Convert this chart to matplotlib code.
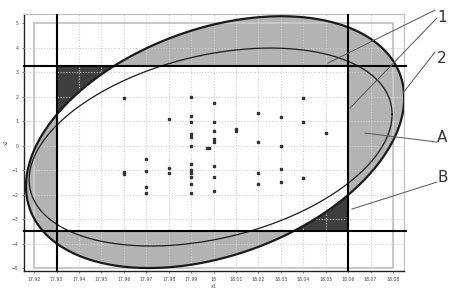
import numpy as np
import matplotlib
matplotlib.use('Agg')
from matplotlib import pyplot as plt
from matplotlib.patches import Rectangle

# measured points (x1, x2)
x1 = [17.96, 17.96, 17.96,
      17.97, 17.97, 17.97, 17.97,
      17.98, 17.98, 17.98,
      17.99, 17.99, 17.99, 17.99, 17.99, 17.99, 17.99, 17.99, 17.99, 17.99, 17.99, 17.99,
      18.00, 18.00, 18.00, 18.00, 18.00, 18.00, 18.00, 18.00,
      17.997, 17.998,
      18.01, 18.01,
      18.02, 18.02, 18.02, 18.02,
      18.03, 18.03, 18.03, 18.03,
      18.04, 18.04, 18.04,
      18.05]
x2 = [1.94, -1.06, -1.18,
      -0.55, -1.04, -1.69, -1.94,
      1.08, -0.92, -1.12,
      1.98, 1.2, 0.96, 0.47, 0.35, -0.02, -0.76, -1.0, -1.12, -1.29, -1.57, -1.94,
      1.73, 0.96, 0.59, 0.27, 0.14, -0.84, -1.29, -1.86,
      -0.1, -0.1,
      0.67, 0.59,
      1.33, 0.14, -1.12, -1.57,
      1.16, -0.02, -0.96, -1.49,
      1.94, 0.96, -1.33,
      0.51]

# tolerance limits (lines "1")
x1_limits = [17.93, 18.06]
x2_limits = [-3.5, 3.25]

# ellipses: centre, half width, half height, cos of phase
outer_ell = dict(cx=18.0007, cy=0.14, ax=0.0843, ay=5.14, c=0.35)
inner_ell = dict(cx=17.9987, cy=-0.06, ax=0.0809, ay=4.04, c=0.33)

xticks = [17.92, 17.93, 17.94, 17.95, 17.96, 17.97, 17.98, 17.99, 18.00,
          18.01, 18.02, 18.03, 18.04, 18.05, 18.06, 18.07, 18.08]
xticklabels = ['17.92', '17.93', '17.94', '17.95', '17.96', '17.97', '17.98', '17.99', '18',
               '18.01', '18.02', '18.03', '18.04', '18.05', '18.06', '18.07', '18.08']
yticks = [-5, -4, -3, -2, -1, 0, 1, 2, 3, 4, 5]


def ellipse_xy(e, n=400):
    t = np.linspace(0, 2 * np.pi, n)
    d = np.arccos(e['c'])
    return e['cx'] + e['ax'] * np.cos(t), e['cy'] + e['ay'] * np.cos(t - d)


fig = plt.figure(figsize=(4.73, 3.0), dpi=100)
ax = fig.add_axes([0.0507, 0.0967, 0.8034, 0.8566])
ax.set_xlim(17.9155, 18.0849)
ax.set_ylim(-5.12, 5.37)

ox, oy = ellipse_xy(outer_ell)
ix, iy = ellipse_xy(inner_ell)

# gray = inside ellipse, outside box ; dark = inside box, outside ellipse
ax.fill(ox, oy, color='#b3b3b3', lw=0, zorder=1)
box = Rectangle((x1_limits[0], x2_limits[0]), x1_limits[1] - x1_limits[0],
                x2_limits[1] - x2_limits[0], transform=ax.transData)
ax.add_patch(Rectangle((x1_limits[0], x2_limits[0]), x1_limits[1] - x1_limits[0],
                       x2_limits[1] - x2_limits[0], color='#3e3e3e', lw=0, zorder=2))
white = ax.fill(ox, oy, color='white', lw=0, zorder=3)[0]
white.set_clip_path(box)

# grid
for xt in xticks[1:-1]:
    ax.axvline(xt, color='#cfcfcf', lw=0.8, ls=(0, (1, 1.5)), zorder=4)
for yt in yticks[1:-1]:
    ax.axhline(yt, color='#cfcfcf', lw=0.8, ls=(0, (1, 1.5)), zorder=4)
ax.add_patch(Rectangle((xticks[0], yticks[0]), xticks[-1] - xticks[0], yticks[-1] - yticks[0],
                       fill=False, ec='#c8c8c8', lw=1.4, zorder=4))

ax.plot(ix, iy, color='#1a1a1a', lw=0.9, zorder=5)
ax.plot(ox, oy, color='#1a1a1a', lw=1.6, zorder=5)

for v in x1_limits:
    ax.axvline(v, color='black', lw=1.5, zorder=6)
for v in x2_limits:
    ax.plot([17.9155, 18.086], [v, v], color='black', lw=1.5, zorder=6, clip_on=False)

ax.plot(x1, x2, ls='none', marker='s', ms=2.0, color='#333333', zorder=7)

ax.set_xticks(xticks)
ax.set_xticklabels(xticklabels)
ax.set_yticks(yticks)
ax.tick_params(labelsize=3.3, length=1.5, width=0.5, pad=2.5, colors='#444444')
ax.set_xlabel('x1', fontsize=3.3, labelpad=2, color='#444444')
ax.set_ylabel('x2', fontsize=3.3, labelpad=2, color='#444444')
for s in ['top', 'right']:
    ax.spines[s].set_color('#bdbdbd')
for s in ['left', 'bottom']:
    ax.spines[s].set_color('#222222')
    ax.spines[s].set_linewidth(1.0)


# callouts, positions in pixels of the figure
def px(x, y):
    return 17.92 + (x - 34) / 2244.0, (145.5 - y) / 24.5


callouts = [('1', (442, 17), [((435, 10), (328, 63)), ((437, 18), (350, 108))]),
            ('2', (442, 58), [((435, 52), (403, 93))]),
            ('A', (442, 137), [((437, 142), (365, 133))]),
            ('B', (443, 177), [((437, 182), (352, 209))])]
for lab, pos, lines in callouts:
    tx, ty = px(*pos)
    ax.text(tx, ty, lab, fontsize=11, ha='center', va='center', color='#333333',
            clip_on=False)
    for a, b in lines:
        xa, ya = px(*a)
        xb, yb = px(*b)
        ax.plot([xa, xb], [ya, yb], color='#555555', lw=0.7, zorder=8, clip_on=False)

plt.savefig('out.png', dpi=100)
